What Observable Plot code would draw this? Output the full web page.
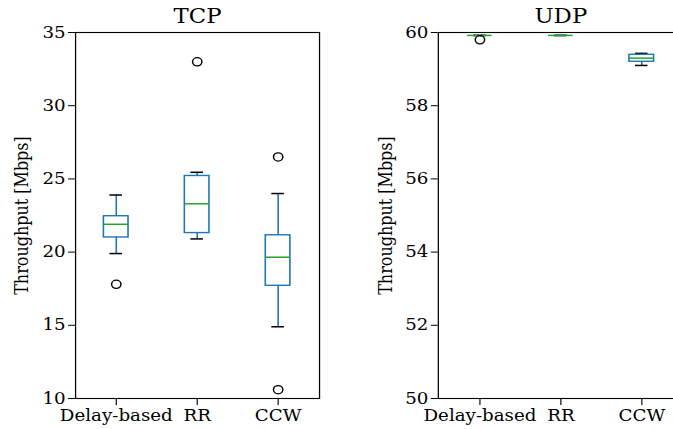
<!DOCTYPE html>
<html>
<head>
<meta charset="utf-8">
<script src="https://cdn.jsdelivr.net/npm/d3@7"></script>
<script src="https://cdn.jsdelivr.net/npm/@observablehq/plot@0.6"></script>
<style>
  html, body { margin: 0; padding: 0; background: #fff; overflow: hidden; }
  #page { width: 673px; height: 429px; overflow: hidden; background: #fff; }
  /* the figure is laid out narrower, then widened horizontally */
  #figure { position: relative; width: 590px; height: 429px; transform: scaleX(1.14); transform-origin: 0 0; }
  #figure > div { position: absolute; top: 0; }
  #figure svg { max-width: none; }
</style>
</head>
<body>
<div id="page">
  <div id="figure">
    <div id="tcp" style="left:0px"></div>
    <div id="udp" style="left:298.2px"></div>
  </div>
</div>
<script>
// Scheduling strategies compared in both panels
const categories = ["Delay-based", "RR", "CCW"];

// TCP throughput box summaries (Mbps), one entry per strategy
const tcpLowerWhisker = [19.9, 20.9, 14.9];
const tcpQ1 = [21.0, 21.3, 17.7];
const tcpMedian = [21.9, 23.3, 19.65];
const tcpQ3 = [22.45, 25.2, 21.15];
const tcpUpperWhisker = [23.9, 25.45, 24.0];
const tcpOutlierCategory = ["Delay-based", "RR", "CCW", "CCW"];
const tcpOutlierValue = [17.8, 33.0, 26.5, 10.6];
const tcpTicks = [10, 15, 20, 25, 30, 35];

// UDP throughput box summaries (Mbps)
const udpLowerWhisker = [59.92, 59.92, 59.1];
const udpQ1 = [59.92, 59.92, 59.2];
const udpMedian = [59.92, 59.92, 59.3];
const udpQ3 = [59.92, 59.92, 59.39];
const udpUpperWhisker = [59.92, 59.92, 59.43];
const udpOutlierCategory = ["Delay-based"];
const udpOutlierValue = [59.8];
const udpTicks = [50, 52, 54, 56, 58, 60];

const boxColor = "#1f77b4";
const medianColor = "#2ca02c";

function panel(el, o) {
  const rows = categories.map((c, i) => ({
    category: c, lo: o.lo[i], q1: o.q1[i], med: o.med[i], q3: o.q3[i], hi: o.hi[i]
  }));
  const fliers = o.outlierCategory.map((c, i) => ({category: c, value: o.outlierValue[i]}));
  const boxInset = 24.7, capInset = 30;
  const chart = Plot.plot({
    width: o.width,
    height: 429,
    marginTop: 32,
    marginBottom: 31,
    marginLeft: o.marginLeft,
    marginRight: o.marginRight,
    style: {fontFamily: "'DejaVu Serif', serif", fontSize: "16px", background: "#fff", overflow: "visible", maxWidth: "none"},
    x: {type: "band", domain: categories, padding: 0},
    y: {domain: o.domain},
    marks: [
      // whiskers
      Plot.ruleX(rows, {x: "category", y1: "q3", y2: "hi", stroke: boxColor, strokeWidth: 1.4}),
      Plot.ruleX(rows, {x: "category", y1: "lo", y2: "q1", stroke: boxColor, strokeWidth: 1.4}),
      // caps
      Plot.tickY(rows, {x: "category", y: "hi", stroke: "#000", strokeWidth: 1.5, insetLeft: capInset, insetRight: capInset}),
      Plot.tickY(rows, {x: "category", y: "lo", stroke: "#000", strokeWidth: 1.5, insetLeft: capInset, insetRight: capInset}),
      // interquartile boxes
      Plot.barY(rows, {x: "category", y1: "q1", y2: "q3", fill: "none", stroke: boxColor, strokeWidth: 1.4, insetLeft: boxInset, insetRight: boxInset}),
      // medians
      Plot.tickY(rows, {x: "category", y: "med", stroke: medianColor, strokeWidth: 1.5, insetLeft: boxInset, insetRight: boxInset}),
      // outliers
      Plot.dot(fliers, {x: "category", y: "value", r: 4.1, stroke: "#000", strokeWidth: 1.3, fill: "none"}),
      Plot.frame({stroke: "#000", strokeWidth: 1.1}),
      Plot.axisY({ticks: o.ticks, tickSize: 6.1, tickPadding: 2.6, fontSize: 16, label: null}),
      Plot.axisX({tickSize: 7, tickPadding: 4, fontSize: 16, label: null}),
      Plot.text([o.title], {frameAnchor: "top", dy: -10, lineAnchor: "bottom", fontSize: 20}),
      Plot.text(["Throughput [Mbps]"], {frameAnchor: "left", dx: o.labelDx, rotate: -90, lineAnchor: "bottom", textAnchor: "middle", fontSize: 16})
    ]
  });
  document.getElementById(el).appendChild(chart);
}

panel("tcp", {
  title: "TCP", lo: tcpLowerWhisker, q1: tcpQ1, med: tcpMedian, q3: tcpQ3, hi: tcpUpperWhisker,
  outlierCategory: tcpOutlierCategory, outlierValue: tcpOutlierValue,
  domain: [10, 35], ticks: tcpTicks, width: 290, marginLeft: 65.8, marginRight: 10.2, labelDx: -42
});

panel("udp", {
  title: "UDP", lo: udpLowerWhisker, q1: udpQ1, med: udpMedian, q3: udpQ3, hi: udpUpperWhisker,
  outlierCategory: udpOutlierCategory, outlierValue: udpOutlierValue,
  domain: [50, 60], ticks: udpTicks, width: 305, marginLeft: 86, marginRight: 4.1, labelDx: -40.5
});
</script>
</body>
</html>
